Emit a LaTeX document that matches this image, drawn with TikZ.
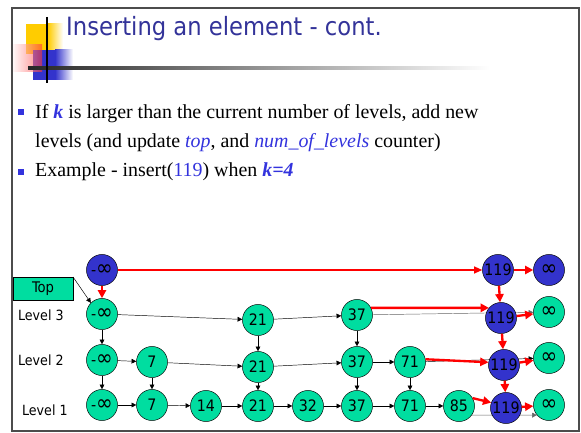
\documentclass[tikz,border=0pt]{standalone}
\usepackage{fontspec}
\setmainfont{Liberation Serif}
\newfontfamily\tahoma{DejaVu Sans Condensed}
\usetikzlibrary{arrows.meta, positioning}
\definecolor{mint}{RGB}{0,221,160}
\definecolor{nodeblue}{RGB}{51,51,204}
\definecolor{titleblue}{RGB}{51,51,153}
\definecolor{textblue}{RGB}{51,51,221}
\definecolor{logoyellow}{RGB}{255,204,0}
\newcommand{\biginf}{{\fontsize{19}{19}\selectfont ∞}}
\tikzset{
  cell/.style    = {circle, draw, fill=mint, minimum size=26.5pt,
                    inner sep=0pt, font=\tahoma\fontsize{13.5}{15}\selectfont},
  newcell/.style = {cell, fill=nodeblue},
  lvl/.style     = {font=\tahoma\fontsize{12}{14}\selectfont, anchor=west},
  topbox/.style  = {rectangle, draw, fill=mint, minimum width=51pt,
                    minimum height=20pt, font=\tahoma\fontsize{12.5}{14}\selectfont},
  bodytext/.style= {anchor=base west, inner sep=0pt,
                    font=\fontsize{17}{20}\selectfont},
  link/.style    = {-{Triangle[length=4pt,width=4pt]}, black},
  oldlink/.style = {link, black!60},
  newlink/.style = {-{Triangle[length=7pt,width=7pt]}, red, line width=2pt},
  toplink/.style = {-{Triangle[length=7pt,width=6pt]}, red, line width=1.2pt},
}

\begin{document}
\begin{tikzpicture}[x=0.03cm, y=-0.03cm]
\useasboundingbox (0,0) rectangle (581,433);

% -- slide frame and logo ------------------------------------
\draw[line width=1.6pt, black!70] (12,8) rectangle (579,431);
\fill[logoyellow] (26,24) rectangle (48,54);
\shade[left color=logoyellow, right color=white] (48,24) rectangle (63,54);
\fill[nodeblue] (33,50) rectangle (55,80);
\shade[left color=nodeblue, right color=white] (55,50) rectangle (73,80);
\shade[left color=red!5, right color=red!80, opacity=0.6] (13,45) rectangle (42,72);
\shade[left color=black!85, right color=white] (28,67) rectangle (490,69.5);
\draw[line width=1.5pt] (47,17) -- (47,83);

% -- title and text ------------------------------------------
\node[anchor=base west, inner sep=0pt, text=titleblue,
      font=\tahoma\fontsize{21.5}{24}\selectfont] (title) at (66,36)
      {Inserting an element - cont.};

\fill[textblue] (18,109) rectangle (24,115);
\fill[textblue] (18,169) rectangle (24,175);
\node[bodytext] (line1) at (35,119)
      {If \textcolor{textblue}{\textbf{\textit{k}}} is larger than the current number of levels, add new};
\node[bodytext] (line2) at (35,148)
      {levels (and update \textcolor{textblue}{\textit{top}}, and \textcolor{textblue}{\textit{num\_of\_levels}} counter)};
\node[bodytext] (line3) at (35,177)
      {Example - insert(\textcolor{textblue}{119}) when \textcolor{textblue}{\textbf{\textit{k=4}}}};

% -- level labels --------------------------------------------
\node[topbox] (top) at (43,289) {Top};
\node[lvl] (lv3) at (14,315) {Level 3};
\node[lvl] (lv2) at (14,360) {Level 2};
\node[lvl] (lv1) at (18,410) {Level 1};

% -- old skip list -------------------------------------------
\node[cell] (h3) at (102,314) {-\biginf};
\node[cell] (h2) at (102,360) {-\biginf};
\node[cell] (h1) at (102,405) {-\biginf};

\node[cell] (n7l2)  at (152,362) {7};
\node[cell] (n21l3) at (258,320) {21};
\node[cell] (n21l2) at (258,367) {21};
\node[cell] (n37l3) at (357,315) {37};
\node[cell] (n37l2) at (357,362) {37};
\node[cell] (n71l2) at (410,362) {71};

\node[cell] (n7l1)  at (152,405) {7};
\node[cell] (n14l1) at (206,406) {14};
\node[cell] (n21l1) at (258,406) {21};
\node[cell] (n32l1) at (308,406) {32};
\node[cell] (n37l1) at (357,406) {37};
\node[cell] (n71l1) at (410,406) {71};
\node[cell] (n85l1) at (459,406) {85};

\node[cell] (t3) at (549,312) {\biginf};
\node[cell] (t2) at (549,358) {\biginf};
\node[cell] (t1) at (549,405) {\biginf};

% -- old links -----------------------------------------------
\draw[link] (top.north east) -- (h3.135);
\draw[link] (h3) -- (n21l3);
\draw[link] (n21l3) -- (n37l3);
\draw[oldlink] (n37l3) -- (t3);

\draw[link] (h2) -- (n7l2);
\draw[link] (n7l2) -- (n21l2);
\draw[link] (n21l2) -- (n37l2);
\draw[link] (n37l2) -- (n71l2);
\draw[link] (n71l2) -- (t2);

\draw[link] (h1) -- (n7l1);
\draw[link] (n7l1) -- (n14l1);
\draw[link] (n14l1) -- (n21l1);
\draw[link] (n21l1) -- (n32l1);
\draw[link] (n32l1) -- (n37l1);
\draw[link] (n37l1) -- (n71l1);
\draw[link] (n71l1) -- (n85l1);
\draw[oldlink] (n85l1.-35) -- (t1.-140);

\draw[link] (h3) -- (h2);
\draw[link] (h2) -- (h1);
\draw[link] (n7l2) -- (n7l1);
\draw[link] (n21l3) -- (n21l2);
\draw[link] (n21l2) -- (n21l1);
\draw[link] (n37l3) -- (n37l2);
\draw[link] (n37l2) -- (n37l1);
\draw[link] (n71l2) -- (n71l1);

% -- new level and the inserted 119 --------------------------
\node[newcell] (h4)   at (102,270) {-\biginf};
\node[newcell] (t4)   at (549,270) {\biginf};
\node[newcell] (ins4) at (498,270) {119};
\node[newcell] (ins3) at (501,318) {119};
\node[newcell] (ins2) at (504,365) {119};
\node[newcell] (ins1) at (506,408) {119};

% -- new links -----------------------------------------------
\draw[toplink] (h4) -- (ins4);
\draw[newlink] (h4) -- (h3);
\draw[newlink] (ins4) -- (t4);
\draw[newlink] (n37l3.27) -- (ins3.140);
\draw[newlink] (ins3) -- (t3);
\draw[newlink] (n71l2.10) -- (ins2.170);
\draw[newlink] (ins2) -- (t2);
\draw[newlink] (n85l1.30) -- (ins1.160);
\draw[newlink] (ins1) -- (t1);
\draw[newlink] (ins4) -- (ins3);
\draw[newlink] (ins3) -- (ins2);
\draw[newlink] (ins2) -- (ins1);

\end{tikzpicture}
\end{document}
